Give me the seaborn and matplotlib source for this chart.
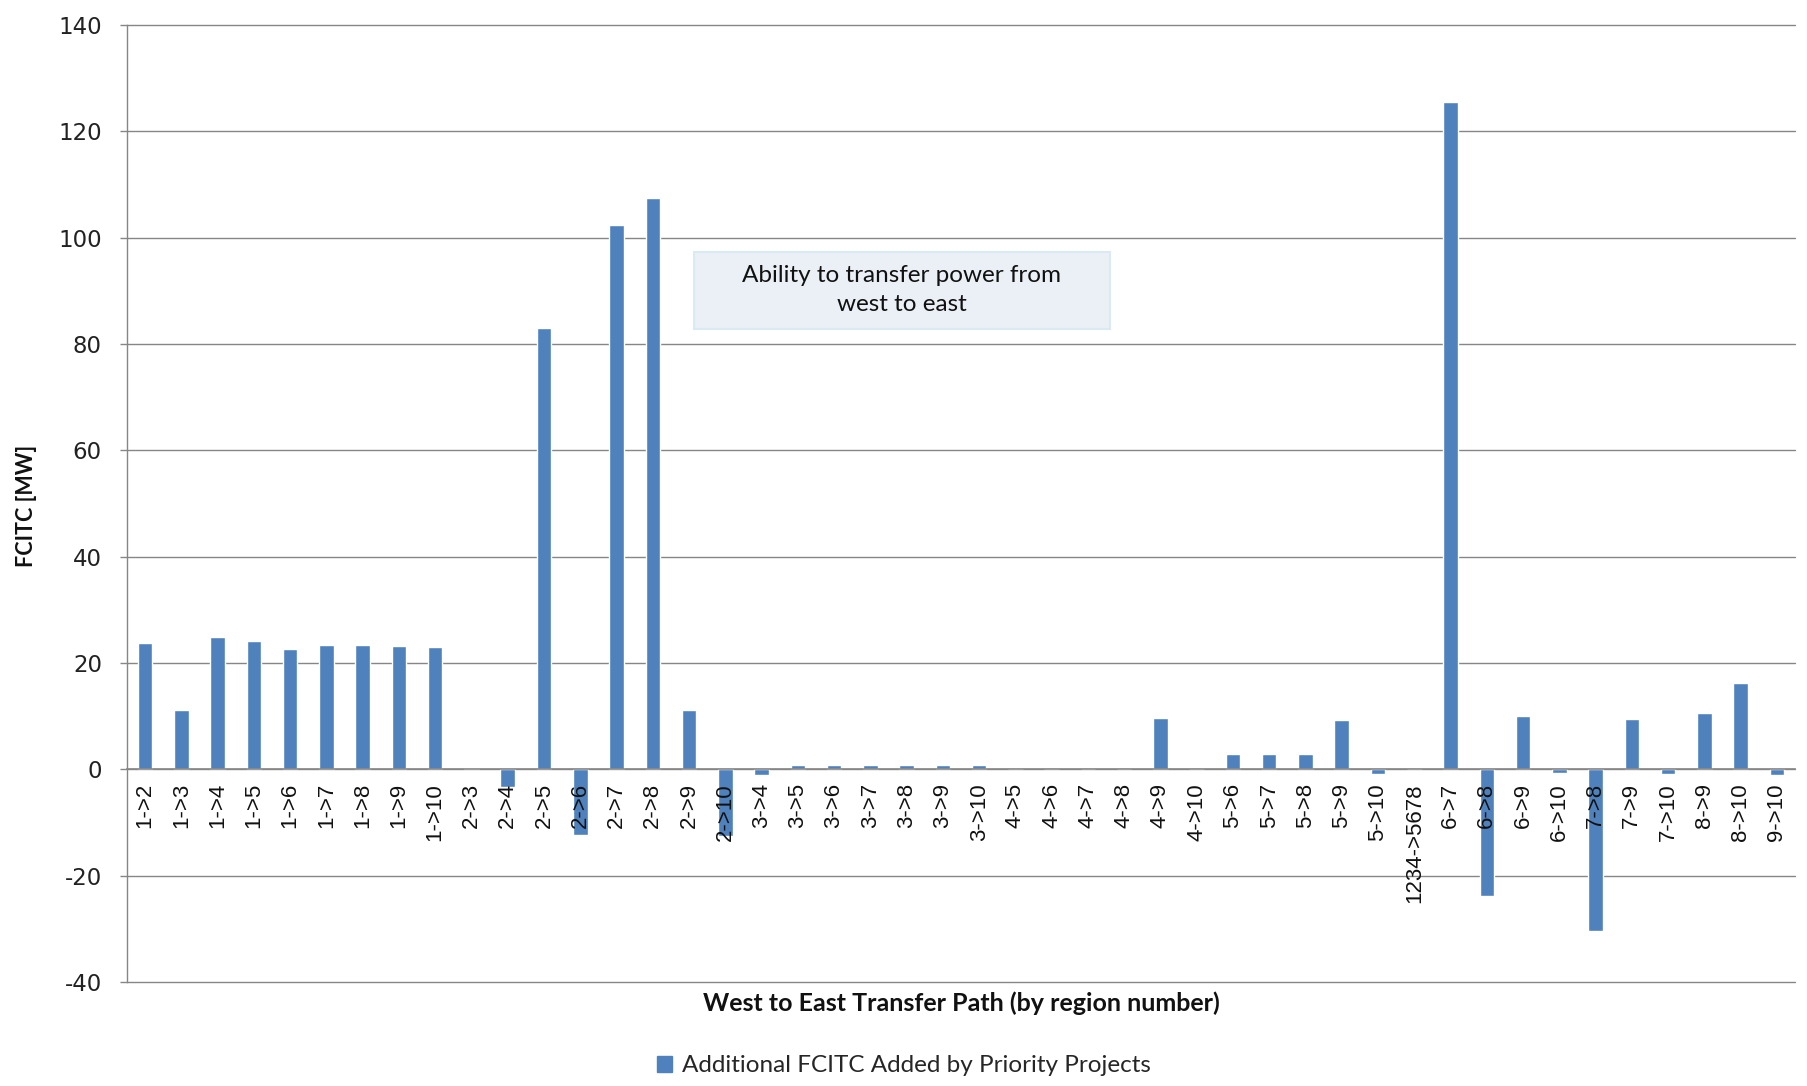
import matplotlib
matplotlib.use("Agg")
import matplotlib.pyplot as plt
import seaborn as sns
import pandas as pd
from matplotlib.patches import Patch, Rectangle

# ---- data ----
paths = ["1->2", "1->3", "1->4", "1->5", "1->6", "1->7", "1->8", "1->9", "1->10",
         "2->3", "2->4", "2->5", "2->6", "2->7", "2->8", "2->9", "2->10",
         "3->4", "3->5", "3->6", "3->7", "3->8", "3->9", "3->10",
         "4->5", "4->6", "4->7", "4->8", "4->9", "4->10",
         "5->6", "5->7", "5->8", "5->9", "5->10",
         "1234->5678",
         "6->7", "6->8", "6->9", "6->10",
         "7->8", "7->9", "7->10",
         "8->9", "8->10",
         "9->10"]
fcitc_added = [23.8, 11.1, 24.9, 24.2, 22.6, 23.4, 23.4, 23.2, 23.0,
               0.2, -3.3, 83.0, -12.4, 102.4, 107.4, 11.1, -12.5,
               -1.1, 0.9, 0.9, 0.9, 0.9, 0.9, 0.9,
               0.0, 0.0, 0.0, 0.0, 9.6, 0.0,
               2.8, 2.8, 2.8, 9.2, -0.9,
               0.0,
               125.5, -23.8, 10.0, -0.7,
               -30.5, 9.4, -0.9,
               10.6, 16.2,
               -1.1]
series_label = "Additional FCITC Added by Priority Projects"
y_ticks = [-40, -20, 0, 20, 40, 60, 80, 100, 120, 140]
x_title = "West to East Transfer Path (by region number)"
y_title = "FCITC [MW]"
note_text = "Ability to transfer power from\nwest to east"

BAR = "#4F81BD"
GRID = "#868686"

sns.set_theme(style="white")
plt.rcParams["font.family"] = ["DejaVu Sans"]

W, H = 1808, 1086
fig = plt.figure(figsize=(W / 100, H / 100), dpi=100)
left, right, top, bottom = 127, 1795, 25, 982
ax = fig.add_axes([left / W, 1 - bottom / H, (right - left) / W, (bottom - top) / H])

df = pd.DataFrame({"path": paths, "value": fcitc_added})
sns.barplot(data=df, x="path", y="value", order=paths, color=BAR, saturation=1,
            width=0.4, errorbar=None, ax=ax, label=series_label)

ax.set_axisbelow(False)
ax.set_xlim(-0.5, len(paths) - 0.5)
ax.set_ylim(y_ticks[0], y_ticks[-1])
ax.set_yticks(y_ticks)
ax.set_yticklabels([str(t) for t in y_ticks], fontsize=16.5, family="DejaVu Sans", color="#222222")
for t in y_ticks:
    ax.axhline(t, color=GRID, lw=1.0, zorder=0, clip_on=False)

# category axis on the zero line
ax.spines["bottom"].set_position(("data", 0))
ax.spines["bottom"].set_color(GRID)
ax.spines["bottom"].set_linewidth(1.2)
ax.spines["left"].set_color(GRID)
ax.spines["left"].set_linewidth(1.0)
ax.spines["top"].set_visible(False)
ax.spines["right"].set_visible(False)

ax.set_xticks(range(len(paths)))
ax.set_xticklabels(paths, rotation=90, fontsize=16, family="Liberation Sans", color="#111111")
ax.tick_params(axis="x", which="major", length=0, pad=10)
ax.set_xticks([i - 0.5 for i in range(len(paths) + 1)], minor=True)
ax.tick_params(axis="x", which="minor", length=6, width=1, color=GRID, direction="out")
ax.tick_params(axis="y", which="major", length=5, width=1, color=GRID, direction="out", left=True, pad=13)

ax.set_xlabel("")
ax.set_ylabel("")
fig.text((left + right) / 2 / W, 1 - 1003 / H, x_title, ha="center", va="center",
         fontsize=18, fontweight="bold", family="Lato", color="#111111")
fig.text(27 / W, 1 - 506 / H, y_title, ha="center", va="center", rotation=90,
         fontsize=15.5, fontweight="bold", family="Lato", color="#111111")

# annotation box
ax.add_patch(Rectangle((15.13, 82.9), 26.6 - 15.13, 97.3 - 82.9, facecolor="#EBF0F7",
                       edgecolor="#DAEAF2", lw=1.5, zorder=3))
ax.text((15.13 + 26.6) / 2, 90.1, note_text, ha="center", va="center", fontsize=17.5,
        family="Lato", color="#111111", linespacing=1.45, zorder=4)

if ax.get_legend() is not None:
    ax.get_legend().remove()
fig.legend(handles=[Patch(facecolor=BAR, edgecolor=BAR)], labels=[series_label],
           loc="center", bbox_to_anchor=(0.5, 1 - 1066 / H), frameon=False,
           handlelength=0.6, handleheight=0.6, handletextpad=0.4,
           prop={"family": "Lato", "size": 17.5})

fig.savefig("out.png", dpi=100, facecolor="white")
